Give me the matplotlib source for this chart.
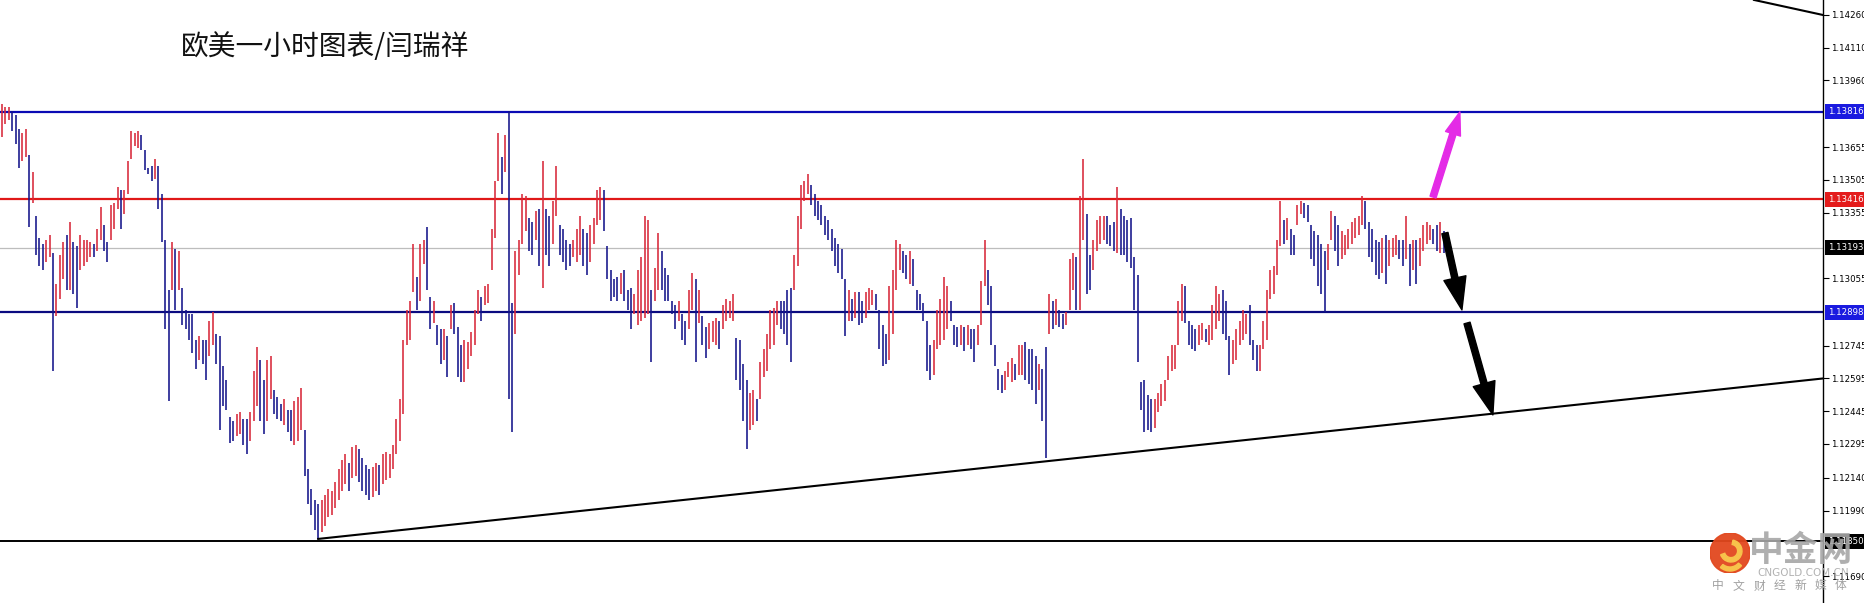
import numpy as np
import matplotlib
matplotlib.use("Agg")
import matplotlib.pyplot as plt
import matplotlib.transforms as mtransforms
from matplotlib.patches import Circle, Wedge

# EURUSD 1h bars, stored as (price - 1) * 10000
bar_high = [
    1385, 1384, 1384, 1382, 1380, 1374, 1372, 1374, 1362, 1354,
    1334, 1324, 1321, 1323, 1325, 1317, 1303, 1316, 1322, 1325,
    1331, 1322, 1320, 1325, 1323, 1323, 1322, 1321, 1328, 1338,
    1330, 1322, 1339, 1340, 1347, 1346, 1346, 1359, 1373, 1372,
    1373, 1371, 1364, 1356, 1357, 1360, 1357, 1344, 1323, 1300,
    1322, 1319, 1318, 1301, 1291, 1289, 1289, 1277, 1279, 1277,
    1277, 1286, 1290, 1280, 1279, 1265, 1259, 1242, 1240, 1243,
    1244, 1241, 1241, 1244, 1263, 1274, 1268, 1259, 1268, 1270,
    1254, 1251, 1248, 1250, 1245, 1245, 1249, 1251, 1255, 1236,
    1218, 1209, 1204, 1202, 1204, 1206, 1209, 1208, 1212, 1218,
    1222, 1225, 1221, 1228, 1229, 1227, 1223, 1220, 1218, 1219,
    1221, 1220, 1225, 1226, 1225, 1229, 1241, 1250, 1277, 1291,
    1295, 1321, 1306, 1321, 1323, 1329, 1297, 1295, 1284, 1282,
    1282, 1279, 1293, 1294, 1283, 1275, 1277, 1276, 1281, 1291,
    1300, 1297, 1302, 1303, 1328, 1350, 1372, 1361, 1371, 1382,
    1294, 1318, 1323, 1344, 1343, 1333, 1331, 1336, 1337, 1359,
    1337, 1334, 1341, 1357, 1330, 1328, 1323, 1321, 1323, 1328,
    1334, 1328, 1326, 1330, 1333, 1346, 1347, 1346, 1320, 1309,
    1305, 1306, 1308, 1309, 1300, 1301, 1298, 1309, 1315, 1334,
    1332, 1300, 1310, 1326, 1318, 1310, 1307, 1295, 1293, 1295,
    1289, 1286, 1300, 1308, 1305, 1300, 1288, 1283, 1285, 1286,
    1287, 1286, 1293, 1296, 1295, 1298, 1278, 1277, 1266, 1259,
    1253, 1254, 1250, 1267, 1273, 1280, 1291, 1292, 1295, 1295,
    1295, 1300, 1301, 1316, 1334, 1348, 1350, 1353, 1348, 1344,
    1341, 1339, 1334, 1332, 1328, 1324, 1321, 1319, 1305, 1300,
    1296, 1299, 1299, 1295, 1299, 1301, 1300, 1298, 1291, 1284,
    1280, 1302, 1309, 1323, 1321, 1318, 1316, 1318, 1314, 1300,
    1298, 1294, 1286, 1275, 1277, 1291, 1296, 1306, 1302, 1295,
    1284, 1283, 1284, 1283, 1284, 1282, 1282, 1284, 1304, 1323,
    1309, 1302, 1275, 1264, 1261, 1263, 1267, 1269, 1266, 1275,
    1275, 1276, 1273, 1273, 1270, 1266, 1264, 1274, 1298, 1295,
    1296, 1291, 1289, 1290, 1314, 1317, 1315, 1343, 1360, 1335,
    1316, 1323, 1332, 1334, 1334, 1334, 1330, 1331, 1347, 1337,
    1334, 1332, 1333, 1315, 1307, 1258, 1259, 1252, 1250, 1250,
    1253, 1257, 1259, 1270, 1275, 1275, 1295, 1303, 1302, 1286,
    1284, 1282, 1284, 1285, 1282, 1284, 1293, 1302, 1298, 1300,
    1295, 1279, 1277, 1282, 1286, 1291, 1289, 1293, 1277, 1275,
    1275, 1286, 1300, 1309, 1311, 1323, 1341, 1332, 1333, 1328,
    1325, 1339, 1341, 1340, 1339, 1330, 1327, 1325, 1321, 1318,
    1321, 1336, 1334, 1330, 1327, 1325, 1328, 1331, 1333, 1334,
    1343, 1341, 1331, 1328, 1323, 1322, 1324, 1325, 1323, 1324,
    1325, 1323, 1323, 1334, 1321, 1323, 1323, 1324, 1330, 1331,
    1330, 1328, 1330, 1331, 1327,
]
bar_low = [
    1370, 1376, 1378, 1373, 1367, 1356, 1359, 1361, 1329, 1340,
    1316, 1311, 1309, 1313, 1315, 1263, 1288, 1296, 1305, 1300,
    1300, 1298, 1292, 1309, 1311, 1313, 1315, 1315, 1318, 1323,
    1318, 1313, 1323, 1328, 1337, 1328, 1335, 1344, 1360, 1366,
    1365, 1364, 1355, 1353, 1350, 1351, 1337, 1322, 1282, 1249,
    1300, 1291, 1300, 1284, 1282, 1277, 1271, 1264, 1268, 1266,
    1259, 1270, 1275, 1266, 1236, 1247, 1245, 1230, 1231, 1233,
    1234, 1229, 1225, 1231, 1240, 1247, 1240, 1234, 1240, 1250,
    1243, 1241, 1240, 1238, 1235, 1231, 1229, 1231, 1236, 1215,
    1202, 1197, 1190, 1186, 1189, 1192, 1196, 1197, 1200, 1204,
    1208, 1211, 1208, 1214, 1215, 1212, 1208, 1206, 1204, 1205,
    1208, 1206, 1211, 1213, 1214, 1218, 1225, 1231, 1243, 1275,
    1277, 1299, 1291, 1295, 1312, 1300, 1282, 1285, 1275, 1266,
    1268, 1260, 1282, 1280, 1260, 1258, 1258, 1264, 1270, 1275,
    1289, 1286, 1293, 1294, 1309, 1324, 1350, 1344, 1354, 1250,
    1235, 1280, 1307, 1321, 1327, 1318, 1316, 1323, 1311, 1301,
    1316, 1311, 1321, 1334, 1316, 1313, 1309, 1311, 1315, 1313,
    1316, 1311, 1307, 1313, 1321, 1330, 1332, 1327, 1305, 1295,
    1297, 1295, 1298, 1295, 1291, 1282, 1289, 1284, 1286, 1287,
    1289, 1267, 1295, 1300, 1300, 1295, 1295, 1289, 1282, 1286,
    1277, 1275, 1282, 1291, 1267, 1285, 1275, 1269, 1273, 1276,
    1275, 1273, 1282, 1286, 1287, 1286, 1259, 1254, 1240, 1227,
    1236, 1238, 1240, 1250, 1260, 1263, 1273, 1275, 1284, 1282,
    1280, 1275, 1267, 1300, 1311, 1328, 1341, 1344, 1339, 1334,
    1332, 1330, 1325, 1323, 1318, 1311, 1308, 1305, 1279, 1286,
    1286, 1287, 1284, 1285, 1287, 1291, 1293, 1291, 1273, 1265,
    1266, 1268, 1280, 1300, 1309, 1308, 1305, 1303, 1302, 1291,
    1291, 1286, 1263, 1259, 1261, 1273, 1275, 1277, 1282, 1286,
    1275, 1274, 1275, 1272, 1275, 1273, 1267, 1275, 1284, 1302,
    1293, 1275, 1265, 1254, 1253, 1254, 1260, 1258, 1259, 1261,
    1261, 1259, 1257, 1254, 1248, 1254, 1240, 1223, 1280, 1282,
    1284, 1283, 1282, 1284, 1291, 1300, 1291, 1291, 1323, 1298,
    1300, 1309, 1318, 1321, 1323, 1321, 1320, 1318, 1317, 1316,
    1316, 1313, 1310, 1291, 1267, 1245, 1235, 1236, 1235, 1237,
    1244, 1247, 1249, 1259, 1263, 1264, 1275, 1286, 1285, 1275,
    1273, 1272, 1275, 1277, 1276, 1275, 1277, 1282, 1286, 1280,
    1277, 1261, 1266, 1268, 1275, 1277, 1280, 1275, 1268, 1263,
    1263, 1273, 1277, 1296, 1298, 1307, 1320, 1321, 1323, 1316,
    1316, 1330, 1335, 1333, 1331, 1314, 1311, 1302, 1298, 1290,
    1309, 1323, 1318, 1311, 1314, 1316, 1319, 1321, 1324, 1325,
    1330, 1328, 1315, 1313, 1307, 1305, 1308, 1303, 1311, 1315,
    1316, 1314, 1311, 1314, 1302, 1309, 1303, 1311, 1318, 1321,
    1323, 1321, 1318, 1317, 1317,
]

# horizontal levels
level_top = 1.13816
level_red = 1.13416
level_last = 1.13193
level_support = 1.12898
level_bottom = 1.11850

# rising trendline (bar index, price)
trend_a = (93, 1.11860)
trend_b = (535.6, 1.12595)
# falling line at top right
top_line_a = (515.3, 1.14329)
top_line_b = (535.6, 1.14260)

axis_ticks = [1.14260, 1.14110, 1.13960, 1.13655, 1.13505, 1.13355, 1.13055,
              1.12745, 1.12595, 1.12445, 1.12295, 1.12140, 1.11990, 1.11690]

RED = "#D8283A"
BLUE = "#14148A"

high = 1 + np.array(bar_high) / 1e4
low = 1 + np.array(bar_low) / 1e4
mid = (high + low) / 2
up = np.r_[True, mid[1:] >= mid[:-1]]
x = np.arange(len(high))

fig = plt.figure(figsize=(18.65, 6.03), dpi=100, facecolor="white")
ax = fig.add_axes([0, 0, 1823 / 1865, 1])
ax.set_xlim(-0.59, 535.6)
ax.set_ylim(1.115664, 1.143287)

ax.vlines(x[up], low[up], high[up], color=RED, lw=1.15, zorder=3)
ax.vlines(x[~up], low[~up], high[~up], color=BLUE, lw=1.15, zorder=3)

ax.axhline(level_top, color="#0A0AB4", lw=1.6, zorder=2)
ax.axhline(level_red, color="#E01818", lw=1.6, zorder=2)
ax.axhline(level_last, color="#BDBDBD", lw=0.9, zorder=1)
ax.axhline(level_support, color="#0A0A80", lw=1.6, zorder=2)
ax.axhline(level_bottom, color="black", lw=1.4, zorder=2)

ax.plot([trend_a[0], trend_b[0]], [trend_a[1], trend_b[1]], color="black", lw=1.5, zorder=4)
ax.plot([top_line_a[0], top_line_b[0]], [top_line_a[1], top_line_b[1]], color="black", lw=1.5)

# forecast arrows
ax.annotate("", xy=(428.8, 1.13816), xytext=(420.9, 1.13426),
            arrowprops=dict(arrowstyle="simple,head_length=1.1,head_width=0.75,tail_width=0.3",
                            color="#E42BE6", shrinkA=0, shrinkB=0, mutation_scale=15), zorder=6)
ax.annotate("", xy=(429.4, 1.12909), xytext=(424.4, 1.13261),
            arrowprops=dict(arrowstyle="simple,head_length=1.3,head_width=0.9,tail_width=0.25",
                            color="black", shrinkA=0, shrinkB=0, mutation_scale=18), zorder=6)
ax.annotate("", xy=(438.5, 1.12428), xytext=(430.9, 1.12849),
            arrowprops=dict(arrowstyle="simple,head_length=1.3,head_width=0.9,tail_width=0.25",
                            color="black", shrinkA=0, shrinkB=0, mutation_scale=18), zorder=6)

# right price axis
for s in ["top", "left", "bottom"]:
    ax.spines[s].set_visible(False)
ax.spines["right"].set_color("black")
ax.spines["right"].set_linewidth(1.0)
ax.set_xticks([])
ax.yaxis.tick_right()
ax.set_yticks(axis_ticks)
ax.set_yticklabels([f"{t:.5f}" for t in axis_ticks])
ax.tick_params(axis="y", direction="out", length=4, width=0.8, labelsize=6.2, pad=2)

trans = mtransforms.blended_transform_factory(ax.transAxes, ax.transData)
for price, face in [(level_top, "#1A1AE0"), (level_red, "#E41C1C"), (level_last, "#000000"),
                    (level_support, "#1A1AE0"), (level_bottom, "#000000")]:
    ax.text(1.003, price, f"{price:.5f}", transform=trans, ha="left", va="center",
            fontsize=6.2, color="white", clip_on=False, zorder=7,
            bbox=dict(boxstyle="square,pad=0.35", fc=face, ec="none"))

fig.text(325 / 1865, 1 - 47 / 603, "欧美一小时图表/闫瑞祥", fontsize=20,
         family=["Noto Sans CJK SC", "DejaVu Sans"], ha="center", va="center", color="#111111")

# watermark
logo = fig.add_axes([1710 / 1865, (603 - 573) / 603, 40 / 1865, 40 / 603])
logo.set_xlim(-1, 1)
logo.set_ylim(-1, 1)
logo.axis("off")
logo.add_patch(Circle((0, 0), 1, color="#E2481E", alpha=0.95))
logo.add_patch(Wedge((0.05, 0.1), 0.55, 200, 80, width=0.22, color="#F7C34B"))
logo.add_patch(Wedge((0.0, -0.15), 0.75, 230, 320, width=0.2, color="#F7C34B"))

fig.text(1801 / 1865, 1 - 550 / 603, "中金网", fontsize=25, fontweight="bold",
         family=["Noto Sans CJK SC"], ha="center", va="center", color="#A6A6A6", alpha=0.9)
fig.text(1803 / 1865, 1 - 573 / 603, "CNGOLD.COM.CN", fontsize=7.5,
         ha="center", va="center", color="#AAAAAA", alpha=0.9)
for k, ch in enumerate("中文财经新媒体"):
    fig.text((1718 + k * 20.5) / 1865, 1 - 586 / 603, ch, fontsize=8.5,
             family=["Noto Sans CJK SC"], ha="center", va="center", color="#A0A0A0")

fig.savefig("out.png", dpi=100, facecolor="white")
